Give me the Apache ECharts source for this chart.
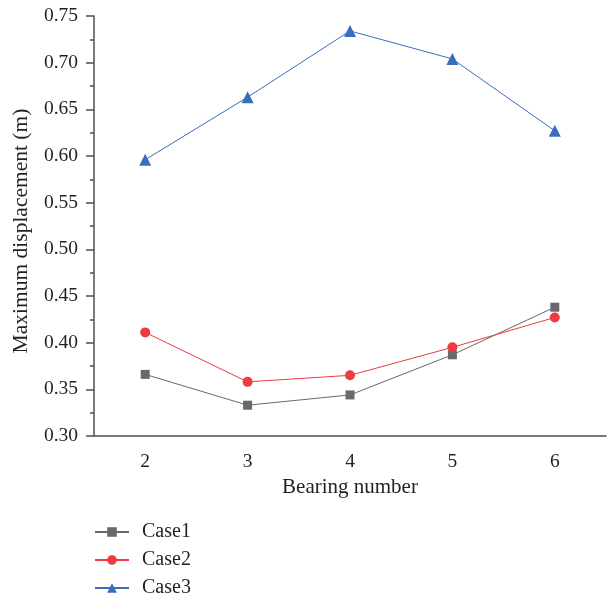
<!DOCTYPE html>
<html><head><meta charset="utf-8">
<script src="https://cdn.jsdelivr.net/npm/echarts@6/dist/echarts.min.js"></script>
<style>html,body{margin:0;padding:0;background:#fff}#c{width:611px;height:595px}</style>
</head><body><div id="c"></div>
<script>
const categories = ['2', '3', '4', '5', '6'];
const case1 = [0.366, 0.333, 0.344, 0.387, 0.438];
const case2 = [0.411, 0.358, 0.365, 0.395, 0.427];
const case3 = [0.596, 0.663, 0.734, 0.704, 0.627];
const seriesNames = ['Case1', 'Case2', 'Case3'];
const yTicks = { min: 0.30, max: 0.75, interval: 0.05 };

const FONT = '"Liberation Serif", "DejaVu Serif", serif';
const FS = 19.5;
const TXT = '#231f20';
const AX = '#4d4d4d';

const chart = echarts.init(document.getElementById('c'), null, { renderer: 'canvas' });
chart.setOption({
  animation: false,
  backgroundColor: '#ffffff',
  grid: { left: 94, right: 5, top: 16, bottom: 159, containLabel: false },
  legend: {
    orient: 'vertical', left: 89, top: 517, height: 90, padding: 5,
    itemWidth: 34, itemHeight: 12, itemGap: 8,
    data: seriesNames,
    textStyle: { fontFamily: FONT, fontSize: 20, lineHeight: 19, color: TXT, padding: [0, 0, 0, 8] }
  },
  xAxis: [
    {
      type: 'category', data: categories, boundaryGap: true,
      name: 'Bearing number', nameLocation: 'middle', nameGap: 41,
      nameTextStyle: { fontFamily: FONT, fontSize: 21, color: TXT },
      axisLine: { lineStyle: { color: AX, width: 1.5 } },
      axisTick: { alignWithLabel: true, length: 7, lineStyle: { color: AX, width: 1.5 } },
      axisLabel: { fontFamily: FONT, fontSize: FS, color: TXT, margin: 16 },
      splitLine: { show: false }
    },
    {
      type: 'category', data: categories, boundaryGap: true, position: 'bottom',
      axisLine: { show: false },
      axisTick: { alignWithLabel: false, length: 4, lineStyle: { color: AX, width: 1.5 } },
      axisLabel: { show: false },
      splitLine: { show: false }
    }
  ],
  yAxis: {
    type: 'value', min: yTicks.min, max: yTicks.max, interval: yTicks.interval,
    name: 'Maximum displacement (m)', nameLocation: 'middle', nameGap: 62,
    nameTextStyle: { fontFamily: FONT, fontSize: 21.5, color: TXT, padding: [0, 10, 0, 0] },
    axisLine: { show: true, lineStyle: { color: AX, width: 1.5 } },
    axisTick: { show: true, length: 8, lineStyle: { color: AX, width: 1.5 } },
    minorTick: { show: true, splitNumber: 2, length: 4, lineStyle: { color: AX, width: 1.5 } },
    axisLabel: { fontFamily: FONT, fontSize: FS, color: TXT, margin: 16,
      formatter: v => v.toFixed(2) },
    splitLine: { show: false }
  },
  series: [
    { name: 'Case1', type: 'line', data: case1, symbol: 'rect', symbolSize: 9,
      itemStyle: { color: '#68696d' }, lineStyle: { color: '#68696d', width: 1 } },
    { name: 'Case2', type: 'line', data: case2, symbol: 'circle', symbolSize: 10,
      itemStyle: { color: '#ee3a40' }, lineStyle: { color: '#ee3a40', width: 1 } },
    { name: 'Case3', type: 'line', data: case3, symbol: 'triangle', symbolSize: 12,
      itemStyle: { color: '#3b6dbd' }, lineStyle: { color: '#3b6dbd', width: 1 } }
  ]
});
</script></body></html>
